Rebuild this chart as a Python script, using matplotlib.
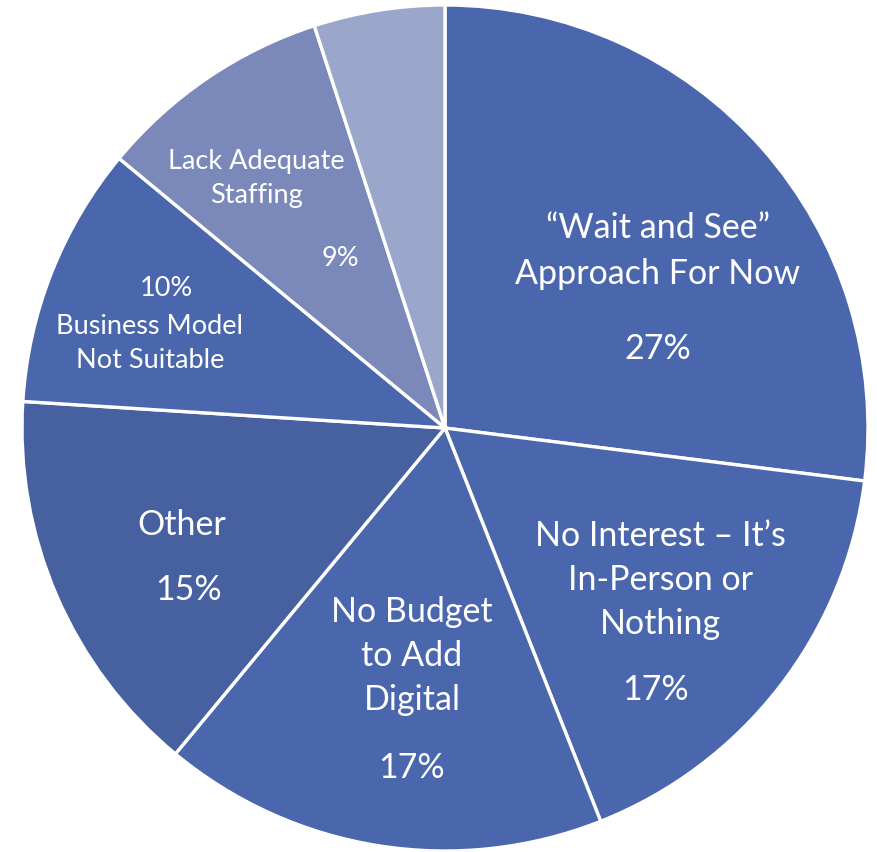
import matplotlib
matplotlib.use("Agg")
import matplotlib.pyplot as plt

categories = [
    "\u201cWait and See\u201d\nApproach For Now",
    "No Interest \u2013 It\u2019s\nIn-Person or\nNothing",
    "No Budget\nto Add\nDigital",
    "Other",
    "Business Model\nNot Suitable",
    "Lack Adequate\nStaffing",
    "",
]
shares = [27, 17, 17, 15, 10, 9, 5]
colors = ["#4A67AE", "#4A67AE", "#4A67AE", "#4660A0", "#4A67AE", "#7B89BA", "#9BA6CB"]

W, H = 877, 852
fig = plt.figure(figsize=(W / 100, H / 100), dpi=100)
ax = fig.add_axes([0, 0, 1, 1])

cx, cy, r = 445, H - 428, 423
ax.pie(shares, colors=colors, startangle=90, counterclock=False,
       center=(cx, cy), radius=r, frame=True,
       wedgeprops=dict(edgecolor="white", linewidth=2.4))
ax.set_xlim(0, W)
ax.set_ylim(0, H)
ax.set_aspect("equal")
ax.axis("off")

font = "Lato"
big, small = 24.5, 19.5

# (label x, label y, percent x, percent y, font size, line spacing)
layout = [
    (658, 251, 658, 349, big, 1.55),
    (660, 580, 656, 690, big, 1.47),
    (412, 656, 412, 768, big, 1.47),
    (182, 525, 189, 590, big, 1.4),
    (150, 344, 166, 289, small, 1.45),
    (256, 179, 340, 259, small, 1.45),
]

for (lx, ly, px, py, fs, ls), name, val in zip(layout, categories, shares):
    ax.text(lx, H - ly, name, ha="center", va="center", color="white",
            fontsize=fs, family=font, linespacing=ls)
    ax.text(px, H - py, f"{val}%", ha="center", va="center", color="white",
            fontsize=fs, family=font)

fig.savefig("out.png", dpi=100)
